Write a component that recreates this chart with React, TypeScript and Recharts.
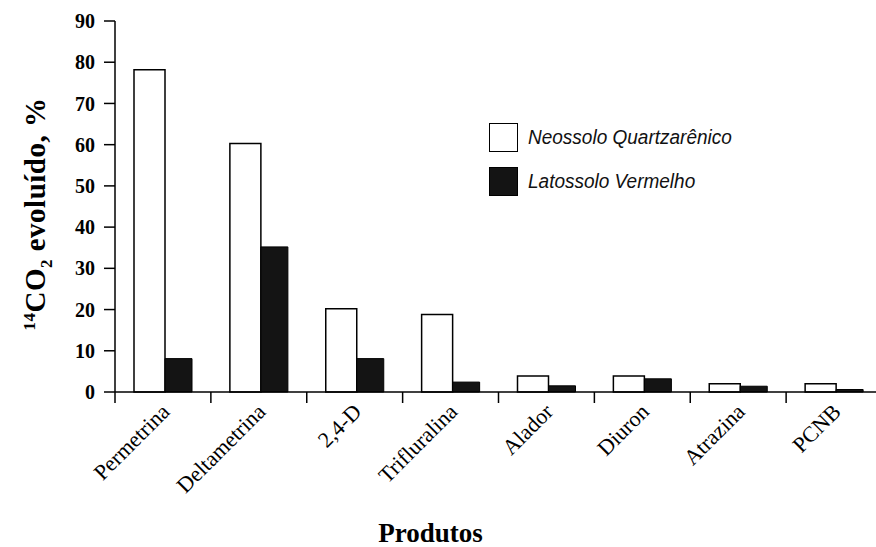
import React from 'react';
import { BarChart, Bar, XAxis, YAxis, Legend } from 'recharts';

// Products on the x axis
const produtos = [
  'Permetrina',
  'Deltametrina',
  '2,4-D',
  'Trifluralina',
  'Alador',
  'Diuron',
  'Atrazina',
  'PCNB',
];

// 14CO2 evolved (%) per soil
const neossolo = [78.2, 60.3, 20.2, 18.8, 3.9, 3.9, 2.0, 2.0];
const latossolo = [8.1, 35.2, 8.1, 2.4, 1.5, 3.2, 1.4, 0.6];

const seriesNames = ['Neossolo Quartzarênico', 'Latossolo Vermelho'];

const yTicks = [0, 10, 20, 30, 40, 50, 60, 70, 80, 90];

const data = produtos.map((p, i) => ({
  produto: p,
  neossolo: neossolo[i],
  latossolo: latossolo[i],
}));

const serif = '"Liberation Serif", "Times New Roman", serif';
const sans = '"Liberation Sans", Arial, sans-serif';

// category tick: boundary tick marks between bands + rotated label
function XTick(props: any) {
  const { x, y, payload, index } = props;
  const half = payload?.offset ?? 0;
  const tx = x + 8;
  const ty = y + 21;
  const last = index === produtos.length - 1;
  return (
    <g>
      <line x1={x - half} y1={y} x2={x - half} y2={y + 11} stroke="#000" strokeWidth={1.5} />
      {last && (
        <line x1={x + half} y1={y} x2={x + half} y2={y + 11} stroke="#000" strokeWidth={1.5} />
      )}
      <text
        x={tx}
        y={ty}
        transform={`rotate(-45, ${tx}, ${ty})`}
        textAnchor="end"
        fontFamily={serif}
        fontSize={22}
        fill="#000"
      >
        {payload.value}
      </text>
    </g>
  );
}

function YTitle() {
  return (
    <text
      x={45}
      y={214}
      transform="rotate(-90, 45, 214)"
      textAnchor="middle"
      fontFamily={serif}
      fontWeight="bold"
      fontSize={29}
      letterSpacing={0.5}
      fill="#000"
    >
      <tspan fontSize={17} dy={-10}>14</tspan>
      <tspan dy={10}>CO</tspan>
      <tspan fontSize={17} dy={7}>2</tspan>
      <tspan dy={-7}> evoluído, %</tspan>
    </text>
  );
}

function LegendBox({ payload }: any) {
  const items = [...(payload || [])].sort(
    (a: any, b: any) => seriesNames.indexOf(a.value) - seriesNames.indexOf(b.value)
  );
  return (
    <div>
      {items.map((item: any, i: number) => (
        <div
          key={i}
          style={{ display: 'flex', alignItems: 'center', height: 29, marginBottom: 15 }}
        >
          <div
            style={{
              width: 27,
              height: 27,
              border: '1px solid #000',
              background: item.payload?.fill ?? item.color,
              marginRight: 10,
              flexShrink: 0,
            }}
          />
          <span
            style={{
              display: 'inline-block',
              fontFamily: sans,
              fontStyle: 'italic',
              fontSize: 20,
              color: '#111',
              transform: 'scaleX(0.95)',
              transformOrigin: 'left center',
              whiteSpace: 'nowrap',
            }}
          >
            {item.value}
          </span>
        </div>
      ))}
    </div>
  );
}

export default function App() {
  return (
    <div
      style={{
        position: 'absolute',
        left: 0,
        top: 0,
        width: 876,
        height: 547,
        overflow: 'hidden',
        background: '#fff',
      }}
    >
      <BarChart
        width={882}
        height={547}
        data={data}
        margin={{ top: 21, right: 0, bottom: 0, left: 0 }}
        barGap={0}
      >
        <XAxis
          dataKey="produto"
          interval={0}
          height={155}
          tickLine={false}
          tickSize={0}
          tickMargin={0}
          axisLine={{ stroke: '#000', strokeWidth: 1.5 }}
          tick={(p: any) => <XTick {...p} />}
          label={{
            value: 'Produtos',
            position: 'insideBottom',
            offset: 5,
            dx: -68,
            fontFamily: serif,
            fontWeight: 'bold',
            fontSize: 27,
            fill: '#000',
          }}
        />
        <YAxis
          width={115}
          domain={[0, 90]}
          ticks={yTicks}
          interval={0}
          tickSize={11}
          tickMargin={9}
          axisLine={{ stroke: '#000', strokeWidth: 1.5 }}
          tickLine={{ stroke: '#000', strokeWidth: 1.5 }}
          tick={{ fontFamily: serif, fontWeight: 'bold', fontSize: 20, fill: '#000' }}
          label={<YTitle />}
        />
        <Legend
          layout="vertical"
          align="center"
          verticalAlign="middle"
          content={<LegendBox />}
          wrapperStyle={{ position: 'absolute', left: 489, top: 123, width: 280 }}
        />
        <Bar
          dataKey="neossolo"
          name={seriesNames[0]}
          fill="#fff"
          stroke="#000"
          strokeWidth={1.5}
          barSize={31}
          isAnimationActive={false}
        />
        <Bar
          dataKey="latossolo"
          name={seriesNames[1]}
          fill="#141414"
          stroke="#000"
          strokeWidth={1}
          barSize={27}
          isAnimationActive={false}
        />
      </BarChart>
    </div>
  );
}
